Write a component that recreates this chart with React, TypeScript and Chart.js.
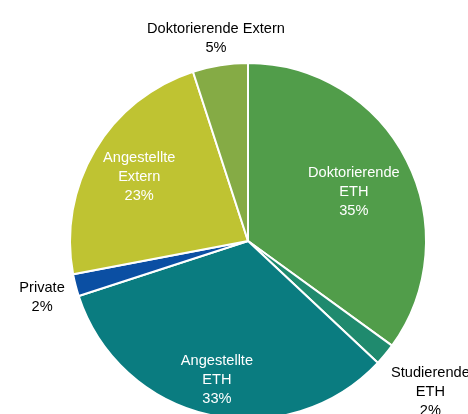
import React, { useEffect, useRef } from "react";
import { Chart, registerables } from "chart.js";

Chart.register(...registerables);

const categories: string[][] = [
  ["Doktorierende", "ETH"],
  ["Studierende", "ETH"],
  ["Angestellte", "ETH"],
  ["Private"],
  ["Angestellte", "Extern"],
  ["Doktorierende Extern"],
];
const shares: number[] = [35, 2, 33, 2, 23, 5];
const sliceColors: string[] = ["#519d4a", "#1f8a6e", "#0a7c80", "#0b4fa3", "#bfc332", "#85ab45"];
const labelInside: boolean[] = [true, false, true, false, true, false];
const labelRadius: number[] = [0.655, 1.33, 0.8, 1.2, 0.71, 1.15];
const labelAngleShift: number[] = [2.2, 0, 0, -1, 0, 0];

const labelPlugin = {
  id: "sliceLabels",
  afterDraw(chart: any) {
    const ctx = chart.ctx;
    const meta = chart.getDatasetMeta(0);
    ctx.save();
    ctx.font = "14.6px 'Liberation Sans', Arial, sans-serif";
    ctx.textAlign = "center";
    ctx.textBaseline = "middle";
    meta.data.forEach((arc: any, i: number) => {
      const { x, y, startAngle, endAngle, outerRadius } = arc.getProps(
        ["x", "y", "startAngle", "endAngle", "outerRadius"],
        true
      );
      const mid = (startAngle + endAngle) / 2 + (labelAngleShift[i] * Math.PI) / 180;
      const d = outerRadius * labelRadius[i];
      const cx = x + Math.cos(mid) * d;
      const cy = y + Math.sin(mid) * d;
      const lines = [...categories[i], `${shares[i]}%`];
      const lh = 19;
      ctx.fillStyle = labelInside[i] ? "#ffffff" : "#000000";
      lines.forEach((ln, k) => {
        ctx.fillText(ln, cx, cy + (k - (lines.length - 1) / 2) * lh);
      });
    });
    ctx.restore();
  },
};

export default function App() {
  const ref = useRef<HTMLCanvasElement | null>(null);
  useEffect(() => {
    document.body.style.margin = "0";
    if (!ref.current) return;
    const chart = new Chart(ref.current, {
      type: "pie",
      data: {
        labels: categories.map((c) => c.join(" ")),
        datasets: [
          {
            data: shares,
            backgroundColor: sliceColors,
            borderColor: "#ffffff",
            borderWidth: 2,
          },
        ],
      },
      options: {
        animation: false,
        responsive: true,
        maintainAspectRatio: false,
        layout: { padding: 62 },
        plugins: {
          legend: { display: false },
          tooltip: { enabled: false },
        },
      },
      plugins: [labelPlugin],
    });
    return () => chart.destroy();
  }, []);
  return (
    <div style={{ position: "absolute", left: 0, top: 0, width: 468, height: 414, overflow: "hidden", background: "#fff" }}>
      <div style={{ position: "absolute", left: 0, top: 0, width: 496, height: 482 }}>
        <canvas ref={ref} />
      </div>
    </div>
  );
}
